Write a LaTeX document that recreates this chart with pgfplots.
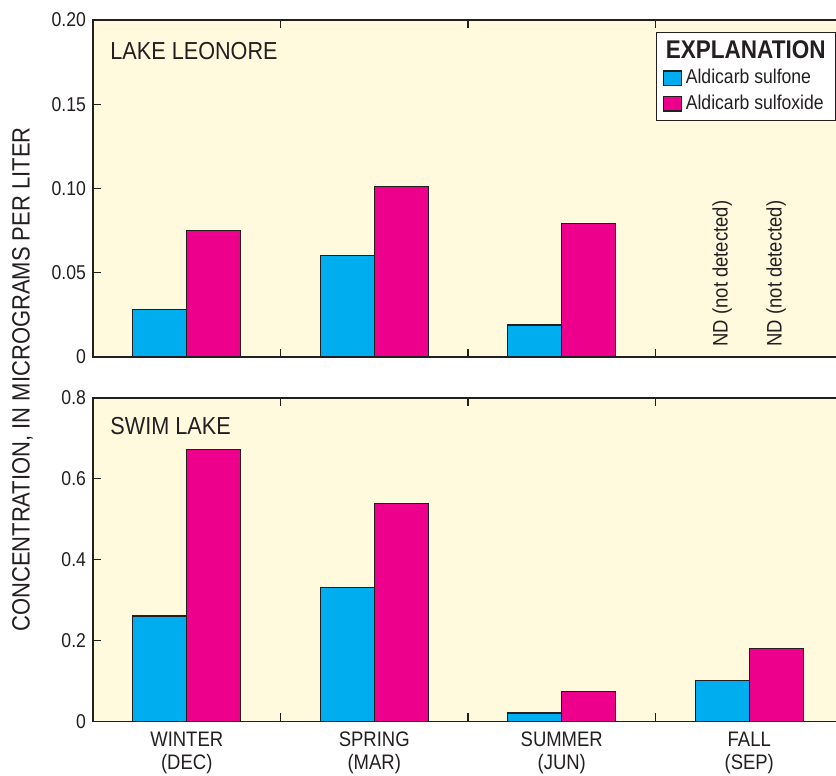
\documentclass[border=0pt]{standalone}
\usepackage{fontspec}
\setmainfont{Liberation Sans}[FakeStretch=0.88]
\usepackage{pgfplots}
\pgfplotsset{compat=1.18}
\definecolor{cblue}{RGB}{0,174,239}
\definecolor{cpink}{RGB}{236,0,140}
\definecolor{cbg}{RGB}{255,250,222}
\definecolor{cline}{RGB}{35,31,32}
\pgfplotsset{
 panel/.style={
  scale only axis, width=375pt, xmin=-0.5, xmax=3.5, ymin=0,
  axis background/.style={fill=cbg},
  axis line style={cline, line width=0.6pt},
  tick style={cline, line width=0.6pt},
  major tick length=4pt,
  tick align=inside,
  ytick pos=left,
  xtick={0.5,1.5,2.5},
  xticklabels={},
  tick label style={font=\fontsize{10}{12}\selectfont, text=cline},
  clip=false,
  /pgf/number format/assume math mode=true,
 },
 bars/.style={ybar, bar width=0.288, draw=cline, line width=0.6pt,
  legend image code/.code={\draw[##1] (0pt,-3.6pt) rectangle (9pt,3.6pt);}},
}
\begin{document}
\begin{tikzpicture}
\begin{axis}[panel, name=top, at={(0,182.25pt)}, anchor=south west, height=168.5pt,
  ymax=0.20, ytick={0,0.05,0.10,0.15,0.20}, yticklabels={0,0.05,0.10,0.15,0.20},
  legend cell align=left,
  legend style={at={(0.7507,0.9644)}, anchor=north west, draw=cline, line width=0.6pt,
    fill=white, font=\fontsize{10}{12}\selectfont, text=cline, inner xsep=3pt, inner ysep=2pt, row sep=0pt}]
\addlegendimage{empty legend}
\addlegendentry{\hspace*{-10pt}\fontsize{12.8}{14}\selectfont\bfseries EXPLANATION}
\addplot[bars, fill=cblue, bar shift=-0.144] coordinates {(0,0.028) (1,0.060) (2,0.019)};
\addlegendentry{Aldicarb sulfone}
\addplot[bars, fill=cpink, bar shift=0.144] coordinates {(0,0.075) (1,0.101) (2,0.079)};
\addlegendentry{Aldicarb sulfoxide}
\node[anchor=base west, inner sep=0pt, font=\fontsize{12.3}{14}\selectfont, text=cline] at (rel axis cs:0.0227,0.8813) {LAKE LEONORE};
\node[rotate=90, anchor=west, inner sep=0pt, font=\fontsize{10.5}{12}\selectfont, text=cline] at (axis cs:2.856,0.006) {ND (not detected)};
\node[rotate=90, anchor=west, inner sep=0pt, font=\fontsize{10.5}{12}\selectfont, text=cline] at (axis cs:3.144,0.006) {ND (not detected)};
\end{axis}
\begin{axis}[panel, name=bot, at={(0,0)}, anchor=south west, height=161.75pt,
  ymax=0.8, ytick={0,0.2,0.4,0.6,0.8}, yticklabels={0,0.2,0.4,0.6,0.8},
  extra x ticks={0,1,2,3},
  extra x tick labels={{WINTER\\(DEC)},{SPRING\\(MAR)},{SUMMER\\(JUN)},{FALL\\(SEP)}},
  extra x tick style={major tick length=0pt},
  xticklabel style={align=center, yshift=-1.5pt, font=\fontsize{10.5}{11.5}\selectfont}]
\addplot[bars, fill=cblue, bar shift=-0.144] coordinates {(0,0.261) (1,0.331) (2,0.021) (3,0.101)};
\addplot[bars, fill=cpink, bar shift=0.144] coordinates {(0,0.672) (1,0.539) (2,0.075) (3,0.181)};
\node[anchor=base west, inner sep=0pt, font=\fontsize{12.3}{14}\selectfont, text=cline] at (rel axis cs:0.0227,0.8866) {SWIM LAKE};
\end{axis}
\node[rotate=90, font=\fontsize{12.5}{14}\selectfont, text=cline] at (-35.2pt,171pt) {CONCENTRATION, IN MICROGRAMS PER LITER};
\pgfresetboundingbox
\useasboundingbox (-46.5pt,-27.25pt) rectangle (371.5pt,360.75pt);
\end{tikzpicture}
\end{document}
